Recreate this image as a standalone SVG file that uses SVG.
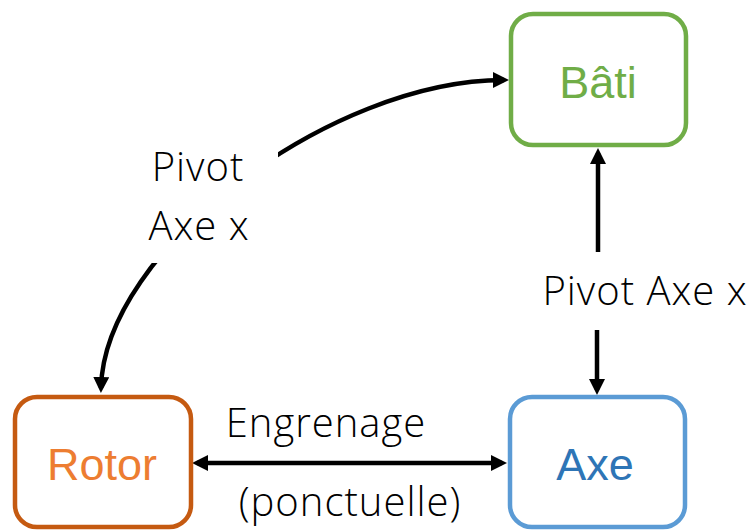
<svg xmlns="http://www.w3.org/2000/svg" width="755" height="531" viewBox="0 0 755 531">
<style>
.box{fill:#fff;stroke-width:4.5}
.lbl{font-family:"Liberation Sans",Arial,sans-serif;font-size:45px;text-anchor:middle}
.clbl{font-family:"Open Sans","Noto Sans",sans-serif;font-weight:300;font-size:40px;letter-spacing:1px;fill:#000;text-anchor:middle}
.conn{fill:none;stroke:#000;stroke-width:4.5}
</style>
<defs>
<marker id="ah" markerUnits="userSpaceOnUse" markerWidth="18" markerHeight="18" refX="11" refY="8" orient="auto-start-reverse">
<path d="M0,0 L16,8 L0,16 z" fill="#000"/>
</marker>
</defs>
<rect width="755" height="531" fill="#fff"/>
<g id="connectors">
<path class="conn" d="M101,388 C104,250 330,80 504,80" marker-start="url(#ah)" marker-end="url(#ah)"/>
<rect x="130" y="138" width="148" height="125" fill="#fff"/>
<path class="conn" d="M598,252 L598,153" marker-end="url(#ah)"/>
<path class="conn" d="M597,330 L597,390" marker-end="url(#ah)"/>
<path class="conn" d="M197,463 L502,463" marker-start="url(#ah)" marker-end="url(#ah)"/>
<text class="clbl" x="198" y="181">Pivot</text>
<text class="clbl" x="199" y="240">Axe x</text>
<text class="clbl" x="645" y="305">Pivot Axe x</text>
<text class="clbl" x="326" y="437">Engrenage</text>
<text class="clbl" x="350" y="516">(ponctuelle)</text>
</g>
<g id="bati">
<rect class="box" x="511" y="14" width="175" height="131" rx="22" stroke="#70AD47"/>
<text class="lbl" x="598" y="98" fill="#70AD47">Bâti</text>
</g>
<g id="rotor">
<rect class="box" x="15" y="397" width="176" height="130" rx="22" stroke="#C55A11"/>
<text class="lbl" x="102" y="480" fill="#ED7D31">Rotor</text>
</g>
<g id="axe">
<rect class="box" x="510" y="397" width="175" height="130" rx="22" stroke="#5B9BD5"/>
<text class="lbl" x="595" y="480" fill="#2E75B6">Axe</text>
</g>
</svg>
